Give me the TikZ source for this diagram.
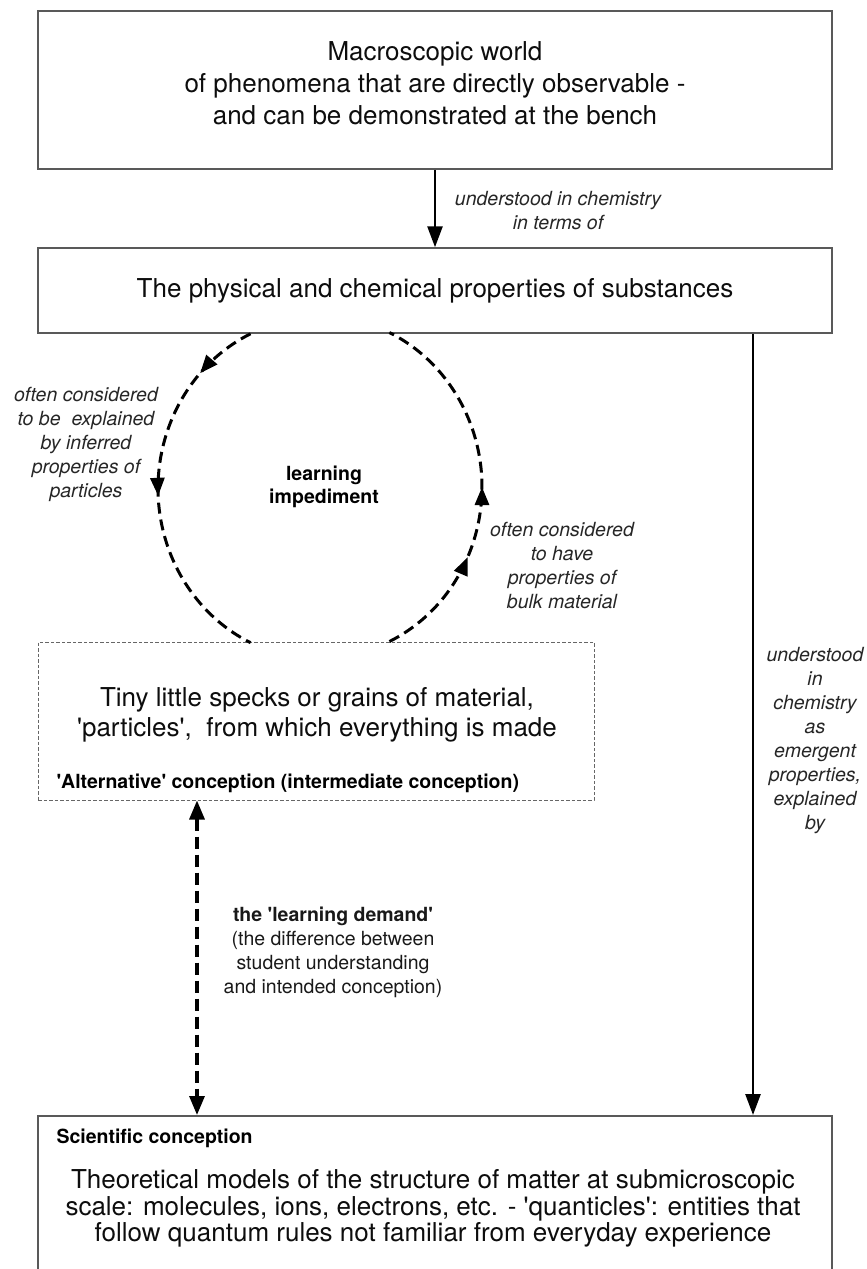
\documentclass[tikz,border=0pt]{standalone}
\usepackage{fontspec}
\setmainfont{TeX Gyre Heros}[Ligatures=TeXOff]
\usetikzlibrary{arrows.meta,decorations.markings}

\begin{document}
\begin{tikzpicture}[x=1pt,y=-1pt,
  box/.style={draw=black!65, line width=1.5pt, inner sep=0pt},
  dashbox/.style={draw=black!60, line width=1pt, dash pattern=on 3.5pt off 2pt, inner sep=0pt},
  big/.style={font=\fontsize{26}{32}\selectfont, align=center, text=black!95},
  note/.style={font=\fontsize{19.5}{24}\selectfont\itshape, align=center, text=black!85},
  tag/.style={font=\fontsize{19.5}{23}\selectfont\bfseries, align=center, text=black},
  flow/.style={line width=2.6pt, -{Triangle[length=21pt,width=15pt]}},
  gap/.style={line width=3.2pt, dash pattern=on 12pt off 6pt,
    {Triangle[length=19pt,width=15pt]}-{Triangle[length=19pt,width=15pt]}},
  loopline/.style={line width=3pt, dash pattern=on 11pt off 6pt},
]
\useasboundingbox (0,0) rectangle (867,1269);

% boxes
\node[box, minimum width=794pt, minimum height=158pt] (macro) at (435,90) {};
\node[big] (macrotext) at (435,83.5)
  {Macroscopic world\\of phenomena that are directly observable -\\and can be demonstrated at the bench};

\node[box, big, minimum width=794pt, minimum height=85pt] (props) at (435,290.5)
  {The physical and chemical properties of substances};

\node[dashbox, minimum width=556pt, minimum height=158pt] (alt) at (316,721) {};
\node[big, font=\fontsize{26}{30}\selectfont] (alttext) at (317,715)
  {Tiny little specks or grains of material,\\'particles',~ from which everything is made};
\node[tag, anchor=west] (altlabel) at (53,783) {'Alternative' conception (intermediate conception)};

\node[box, minimum width=794pt, minimum height=180pt, anchor=north] (sci) at (435,1115) {};
\node[tag, anchor=west] (scilabel) at (53,1138) {Scientific conception};
\node[big, font=\fontsize{26}{26.5}\selectfont] (scitext) at (433,1208.5)
  {Theoretical models of the structure of matter at submicroscopic\\scale: molecules, ions, electrons, etc. - 'quanticles': entities that\\follow quantum rules not familiar from everyday experience};

% labels
\node[note] (l1) at (558,210.5) {understood in chemistry\\in terms of};
\node[note] (l2) at (86,444) {often considered\\to be~ explained\\by inferred\\properties of\\particles};
\node[note] (l3) at (562,566) {often considered\\to have\\properties of\\bulk material};
\node[note] (l4) at (815,741) {understood\\in\\chemistry\\as\\emergent\\properties,\\explained\\by};
\node[tag] (imp) at (324,486.5) {learning\\impediment};
\node[align=center, font=\fontsize{19.5}{24}\selectfont, text=black!90] (demand) at (333,952)
  {{\bfseries the 'learning demand'}\\(the difference between\\student understanding\\and intended conception)};

% connectors
\coordinate (xr) at (753,0);
\coordinate (xd) at (197,0);
\coordinate (xl) at (250.6,0);
\coordinate (xq) at (389.4,0);

\draw[flow] (macro.south) -- (props.north);
\draw[flow] (props.south -| xr) -- (sci.north -| xr);
\draw[gap] (alt.south -| xd) -- (sci.north -| xd);

% the loop between the properties and the particle picture
\draw[loopline, decoration={markings,
    mark=at position 0.17 with {\arrow{Triangle[length=18pt,width=14pt]}},
    mark=at position 0.52 with {\arrow{Triangle[length=18pt,width=14pt]}}},
    postaction={decorate}]
  (props.south -| xl) arc[start angle=244.62, end angle=115.38, x radius=162, y radius=171];
\draw[loopline, decoration={markings,
    mark=at position 0.31 with {\arrow{Triangle[length=18pt,width=14pt]}},
    mark=at position 0.50 with {\arrow{Triangle[length=18pt,width=14pt]}}},
    postaction={decorate}]
  (alt.north -| xq) arc[start angle=64.62, end angle=-64.62, x radius=162, y radius=171];
\end{tikzpicture}
\end{document}
